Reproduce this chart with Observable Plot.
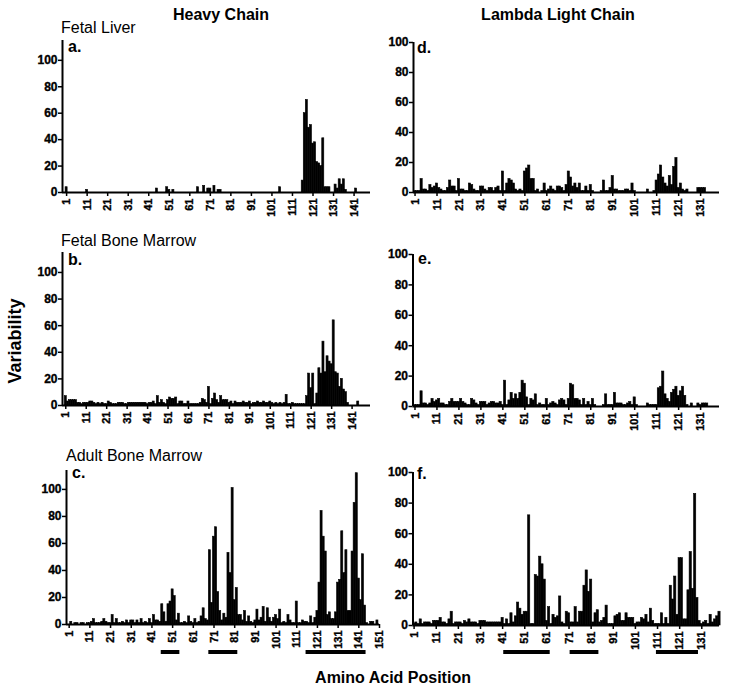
<!DOCTYPE html>
<html>
<head>
<meta charset="utf-8">
<script src="https://cdn.jsdelivr.net/npm/d3@7"></script>
<script src="https://cdn.jsdelivr.net/npm/@observablehq/plot@0.6"></script>
<style>
  body { margin: 0; background: #fff; }
  #fig { position: relative; width: 729px; height: 691px; background: #fff; overflow: hidden;
         font-family: "Liberation Sans", Arial, Helvetica, sans-serif; color: #000; }
  .t { position: absolute; white-space: nowrap; line-height: 1; }
  .b { font-weight: bold; }
  svg { position: absolute; overflow: visible; }
  svg text { font-weight: 700 !important; fill: #000 !important;
             font-family: "Liberation Sans", Arial, Helvetica, sans-serif !important;
             stroke: #000 !important; stroke-width: 0.35px !important; }
  svg g[aria-label="x-axis tick label"] text { font-size: 11px !important; }
  svg g[aria-label="y-axis tick label"] text { font-size: 12px !important; }
</style>
</head>
<body>
<div id="fig"></div>
<script>
// ---------- tick labels ----------
const heavyTicksFetal = [1, 11, 21, 31, 41, 51, 61, 71, 81, 91, 101, 111, 121, 131, 141];
const heavyTicksAdult = [1, 11, 21, 31, 41, 51, 61, 71, 81, 91, 101, 111, 121, 131, 141, 151];
const lightTicks = [1, 11, 21, 31, 41, 51, 61, 71, 81, 91, 101, 111, 121, 131];
const yTicks = [0, 20, 40, 60, 80, 100];

// ---------- variability by amino-acid position (index 0 = position 1) ----------
const fetalLiverHeavy = [
  4,0,0,0,0,0,0,0,0,0,
  2,0,0,0,0,0,0,0,0,0,
  0,0,0,0,0,0,0,0,0,0,
  0,0,0,0,0,0,0,0,0,0,
  0,0,0,0,3,0,0,0,0,4,
  2,0,2,0,0,0,0,0,0,0,
  0,0,0,0,4,0,0,5,0,3,
  3,0,5,0,2,2,0,0,0,0,
  0,0,0,0,0,0,0,0,0,0,
  0,0,0,0,0,0,0,0,0,0,
  0,0,0,0,4,0,0,0,0,0,
  0,0,0,0,0,9,60,70,49,51,
  37,38,23,22,20,41,4,4,4,0,
  0,6,3,10,6,10,2,0,0,0,
  0,3,0,0,0,0,0,0,0
];
const fetalBMHeavy = [
  7,3,4,4,4,4,2,2,1,2,
  2,2,3,3,2,1,2,1,2,1,
  1,3,2,1,1,1,2,2,2,1,
  1,2,2,2,2,2,2,2,2,2,
  1,2,2,3,1,7,2,4,2,1,
  4,6,5,5,6,1,3,3,1,1,
  3,1,1,1,1,1,2,5,4,2,
  14,1,5,9,4,2,7,4,4,4,
  2,3,1,3,2,2,2,3,2,2,
  3,1,2,2,3,2,2,3,2,2,
  3,2,1,2,1,2,1,2,8,1,
  1,2,1,1,1,1,1,1,7,24,
  13,24,1,9,28,24,48,25,37,33,
  31,64,25,24,14,20,12,10,2,0,
  0,0,0,3,0,0,0,0,0
];
const adultBMHeavy = [
  0,2,0,1,1,0,1,1,0,1,
  1,2,4,1,1,1,2,4,2,1,
  1,7,1,4,1,1,2,1,3,1,
  3,3,1,3,1,4,1,2,1,4,
  1,7,3,3,2,15,9,2,15,17,
  26,21,3,8,1,1,2,1,6,2,
  1,4,1,2,6,12,4,3,55,16,
  65,72,24,10,3,8,5,53,38,101,
  18,27,7,7,3,10,2,6,2,1,
  3,11,3,5,13,2,12,5,2,5,
  7,4,11,1,2,1,7,3,1,1,
  17,1,1,3,2,2,1,6,1,5,
  10,31,84,65,54,7,9,4,4,9,
  31,33,69,38,55,10,10,54,90,112,
  34,18,52,14,1,0,2,2,0,3,
  0
];
const fetalLiverLambda = [
  1,1,1,9,2,2,1,5,3,4,
  6,3,2,1,1,3,8,4,4,1,
  9,2,2,1,1,6,5,2,1,1,
  4,4,2,1,3,3,1,3,4,1,
  14,1,6,9,8,6,2,1,2,1,
  14,16,18,9,9,1,2,0,1,6,
  1,2,4,2,1,4,4,3,1,5,
  14,10,4,6,3,6,1,1,4,1,
  5,1,0,0,0,1,8,1,1,3,
  11,2,2,1,1,1,2,2,1,6,
  1,0,0,0,0,0,2,0,0,1,
  8,12,18,10,6,4,11,5,17,23,
  3,6,2,1,2,0,0,0,0,3,
  3,3,3
];
const fetalBMLambda = [
  1,1,1,10,2,2,1,2,5,3,
  4,5,2,2,1,1,3,5,3,3,
  3,5,3,2,1,1,5,4,2,1,
  3,3,3,1,2,3,3,2,2,3,
  1,17,1,4,9,5,8,5,9,17,
  15,6,1,5,4,8,1,2,1,1,
  5,1,2,3,2,1,4,5,4,1,
  5,15,14,5,5,4,1,5,1,3,
  1,5,1,0,0,0,1,8,1,1,
  1,9,2,2,2,1,1,2,3,1,
  6,1,0,0,0,0,2,1,1,1,
  1,12,13,23,8,5,3,9,11,13,
  7,10,13,7,1,0,2,0,0,2,
  1,2,2,2
];
const adultBMLambda = [
  1,2,1,4,1,2,2,2,1,3,
  3,3,5,2,2,1,4,9,1,2,
  2,2,1,3,2,4,2,2,2,1,
  3,3,3,2,2,2,2,2,2,2,
  5,1,4,1,8,2,6,15,11,7,
  9,9,72,1,1,33,32,45,40,30,
  3,12,1,7,5,6,19,2,1,9,
  8,2,2,12,2,9,9,26,36,22,
  30,2,8,10,2,3,5,13,1,1,
  1,6,7,8,3,3,8,5,5,5,
  1,2,2,5,4,7,2,11,3,1,
  1,1,8,1,5,1,26,17,32,7,
  44,44,4,4,23,48,24,86,18,3,
  1,2,3,1,7,2,4,6,9
];

// ---------- CDR spans marked under the adult panels (amino-acid positions) ----------
const adultHeavyCDR = [[46, 54], [69, 82], [116, 144]];
const adultLambdaCDR = [[42, 62], [72, 84], [111, 129]];

const FONT = '"Liberation Sans", Arial, Helvetica, sans-serif';
const fig = document.getElementById("fig");

function place(node, left, top) {
  node.style.position = "absolute";
  node.style.left = left + "px";
  node.style.top = top + "px";
  fig.appendChild(node);
}

function drawPanel(cfg) {
  const rows = cfg.values.map((v, i) => ({pos: i + 1, v}));
  const svg = Plot.plot({
    width: cfg.w, height: cfg.h,
    marginLeft: cfg.ml, marginRight: cfg.mr, marginTop: cfg.mt, marginBottom: cfg.mb,
    x: {domain: cfg.xd},
    y: {domain: cfg.yd},
    style: {background: "none", fontFamily: FONT, fontWeight: "bold", fontSize: "11px", overflow: "visible", color: "black"},
    marks: [
      Plot.rect(rows, {x1: d => d.pos - 0.5, x2: d => d.pos + 0.5, y1: 0, y2: "v",
                       fill: "black", stroke: "black", strokeWidth: 0.6}),
      Plot.ruleY([0], {stroke: "black", strokeWidth: 2}),
      Plot.ruleX([cfg.xd[0]], {stroke: "black", strokeWidth: 2}),
      Plot.axisX({ticks: cfg.xt, tickFormat: d => String(d), tickSize: 4, tickPadding: 2, tickRotate: -90,
                  label: null, fontSize: 11, fontWeight: "bold", strokeWidth: 1.5}),
      Plot.axisY({ticks: yTicks, tickSize: 4, tickPadding: 1, label: null,
                  fontSize: 12, fontWeight: "bold", strokeWidth: 1.5})
    ]
  });
  place(svg, cfg.left, cfg.top);
}

function drawCDR(cfg) {
  const spans = cfg.spans.map(([s, e]) => ({s, e}));
  const svg = Plot.plot({
    width: cfg.w, height: 4,
    marginLeft: cfg.ml, marginRight: cfg.mr, marginTop: 0, marginBottom: 0,
    x: {domain: cfg.xd, axis: null},
    y: {axis: null},
    style: {background: "none", overflow: "visible"},
    marks: [Plot.rect(spans, {x1: d => d.s - 0.5, x2: d => d.e + 0.5, fill: "black"})]
  });
  place(svg, cfg.left, cfg.top);
}

// Heavy chain column
drawPanel({values: fetalLiverHeavy, xt: heavyTicksFetal, xd: [-1, 149], yd: [0, 115],
  left: 0, top: 30, w: 380, h: 195, ml: 62, mr: 10, mt: 10, mb: 33});
drawPanel({values: fetalBMHeavy, xt: heavyTicksFetal, xd: [-0.6, 150], yd: [0, 115],
  left: 0, top: 242, w: 380, h: 195, ml: 62, mr: 10, mt: 10, mb: 32});
drawPanel({values: adultBMHeavy, xt: heavyTicksAdult, xd: [-0.3, 151], yd: [0, 114],
  left: 0, top: 460, w: 390, h: 195, ml: 66, mr: 11, mt: 10, mb: 31});
drawCDR({spans: adultHeavyCDR, xd: [-0.3, 151], left: 0, top: 650, w: 390, ml: 66, mr: 11});

// Lambda light chain column
drawPanel({values: fetalLiverLambda, xt: lightTicks, xd: [0.3, 139.6], yd: [0, 100],
  left: 360, top: 30, w: 369, h: 195, ml: 53, mr: 10, mt: 12, mb: 33});
drawPanel({values: fetalBMLambda, xt: lightTicks, xd: [0.1, 139.6], yd: [0, 100],
  left: 360, top: 242, w: 369, h: 195, ml: 52.5, mr: 10, mt: 12, mb: 31});
drawPanel({values: adultBMLambda, xt: lightTicks, xd: [0.5, 139], yd: [0, 100],
  left: 360, top: 460, w: 369, h: 195, ml: 52.5, mr: 10, mt: 12, mb: 30});
drawCDR({spans: adultLambdaCDR, xd: [0.5, 139], left: 360, top: 650, w: 369, ml: 52.5, mr: 10});

// ---------- text ----------
function text(str, opts) {
  const d = document.createElement("div");
  d.className = "t" + (opts.bold ? " b" : "");
  d.textContent = str;
  d.style.fontSize = opts.size + "px";
  d.style.left = opts.x + "px";
  d.style.top = opts.y + "px";
  if (opts.transform) d.style.transform = opts.transform;
  fig.appendChild(d);
}
text("Heavy Chain", {x: 221, y: 6.5, size: 16, bold: true, transform: "translateX(-50%)"});
text("Lambda Light Chain", {x: 558, y: 7, size: 16, bold: true, transform: "translateX(-50%)"});
text("Fetal Liver", {x: 61, y: 19.5, size: 16});
text("Fetal Bone Marrow", {x: 61, y: 233, size: 16});
text("Adult Bone Marrow", {x: 66, y: 448, size: 16});
text("a.", {x: 68, y: 38.5, size: 16, bold: true});
text("b.", {x: 68, y: 251.5, size: 16, bold: true});
text("c.", {x: 72, y: 465, size: 16, bold: true});
text("d.", {x: 417, y: 39.5, size: 16, bold: true});
text("e.", {x: 418, y: 251, size: 16, bold: true});
text("f.", {x: 417, y: 466, size: 16, bold: true});
text("Variability", {x: 15, y: 341, size: 18, bold: true, transform: "translate(-50%, -50%) rotate(-90deg)"});
text("Amino Acid Position", {x: 393, y: 669.5, size: 16, bold: true, transform: "translateX(-50%)"});
</script>
</body>
</html>
